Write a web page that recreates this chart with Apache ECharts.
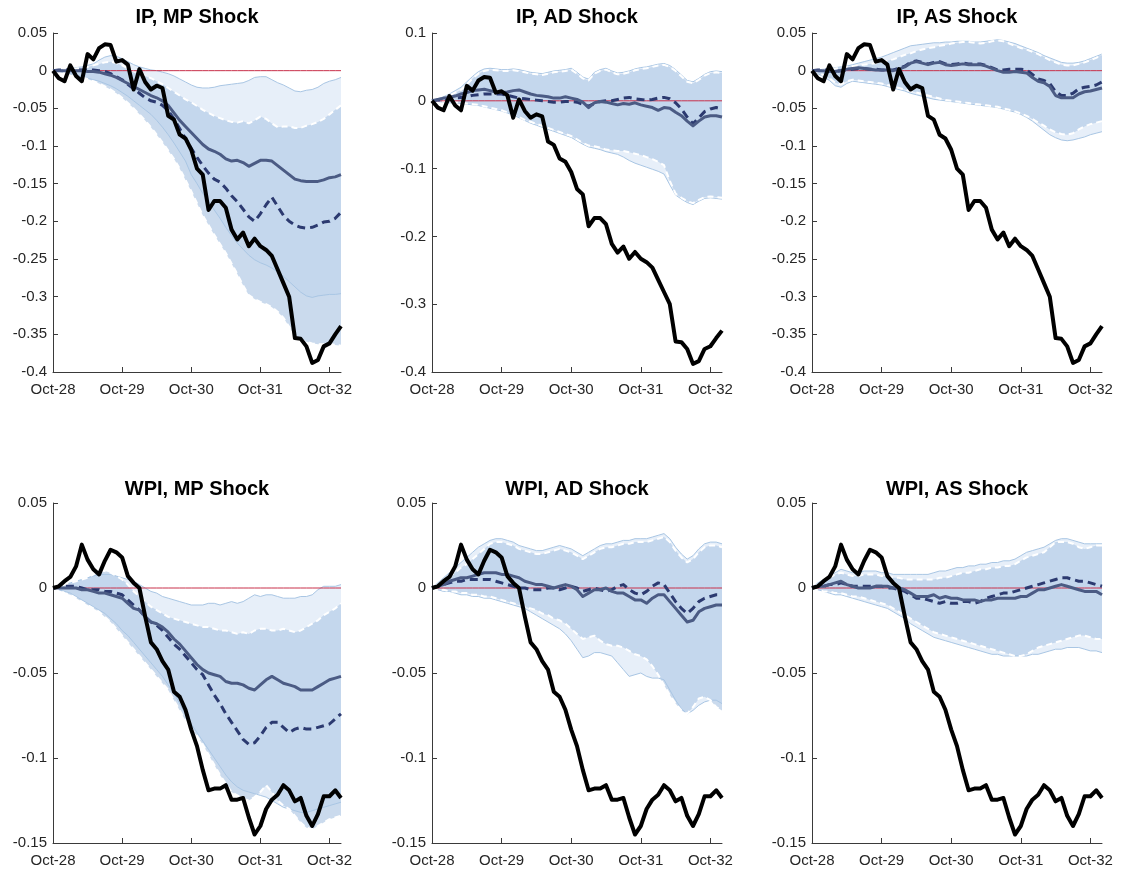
<!DOCTYPE html>
<html>
<head>
<meta charset="utf-8">
<script src="https://cdn.jsdelivr.net/npm/echarts@6/dist/echarts.min.js"></script>
<style>
html,body{margin:0;padding:0;background:#fff;}
#chart{width:1121px;height:872px;}
</style>
</head>
<body>
<div id="chart"></div>
<script>
// ---------- categories / tick labels ----------
const monthNames = ['Jan','Feb','Mar','Apr','May','Jun','Jul','Aug','Sep','Oct','Nov','Dec'];
const months = [];
for (let i = 0; i < 51; i++) {
  months.push(monthNames[(9 + i) % 12] + '-' + (28 + Math.floor((9 + i) / 12)));
}
const panelTitles = ['IP, MP Shock','IP, AD Shock','IP, AS Shock','WPI, MP Shock','WPI, AD Shock','WPI, AS Shock'];

// ---------- actual data (black lines) ----------
const ipActual = [0,-0.01,-0.014,0.007,-0.007,-0.014,0.022,0.015,0.03,0.035,0.034,0.012,0.014,0.008,-0.025,0.002,-0.015,-0.025,-0.02,-0.023,-0.06,-0.065,-0.085,-0.09,-0.105,-0.13,-0.138,-0.185,-0.173,-0.173,-0.182,-0.211,-0.224,-0.215,-0.233,-0.223,-0.233,-0.238,-0.246,-0.264,-0.282,-0.3,-0.355,-0.356,-0.366,-0.388,-0.384,-0.366,-0.362,-0.35,-0.339];
const wpiActual = [0,0.001,0.004,0.0065,0.0127,0.0255,0.0167,0.011,0.008,0.016,0.0225,0.021,0.018,0.007,0.003,0,-0.0167,-0.032,-0.036,-0.043,-0.048,-0.061,-0.064,-0.0716,-0.0833,-0.093,-0.107,-0.119,-0.118,-0.118,-0.116,-0.1245,-0.1245,-0.1235,-0.135,-0.145,-0.14,-0.13,-0.1245,-0.1216,-0.116,-0.119,-0.1255,-0.1235,-0.134,-0.14,-0.133,-0.1225,-0.1225,-0.119,-0.1235];

// ---------- IP, MP ----------
const ipMpSolid = [0,0,0,0,0,0,-0.001,-0.001,-0.002,-0.004,-0.006,-0.009,-0.013,-0.017,-0.021,-0.025,-0.029,-0.033,-0.036,-0.04,-0.046,-0.056,-0.066,-0.074,-0.082,-0.09,-0.098,-0.104,-0.107,-0.111,-0.117,-0.12,-0.119,-0.122,-0.127,-0.123,-0.119,-0.119,-0.12,-0.126,-0.132,-0.138,-0.144,-0.146,-0.147,-0.147,-0.147,-0.145,-0.142,-0.141,-0.138];
const ipMpDashed = [0,0.001,0.001,0.001,0.001,0.001,0.001,0.001,0,-0.001,-0.004,-0.008,-0.012,-0.018,-0.024,-0.03,-0.036,-0.04,-0.042,-0.046,-0.053,-0.064,-0.077,-0.09,-0.103,-0.115,-0.126,-0.136,-0.144,-0.148,-0.156,-0.166,-0.174,-0.184,-0.194,-0.2,-0.19,-0.178,-0.168,-0.18,-0.192,-0.2,-0.205,-0.208,-0.209,-0.208,-0.205,-0.201,-0.2,-0.196,-0.188];
const ipMpUpperA = [0,0.001,0.002,0.003,0.004,0.005,0.007,0.009,0.014,0.018,0.02,0.019,0.016,0.012,0.008,0.005,0.003,0.001,0,-0.002,-0.004,-0.007,-0.011,-0.015,-0.019,-0.022,-0.023,-0.023,-0.022,-0.02,-0.019,-0.018,-0.017,-0.016,-0.013,-0.009,-0.008,-0.008,-0.012,-0.016,-0.019,-0.023,-0.027,-0.028,-0.026,-0.025,-0.022,-0.017,-0.014,-0.012,-0.009];
const ipMpLowerA = [0,-0.001,-0.002,-0.004,-0.006,-0.008,-0.01,-0.012,-0.014,-0.017,-0.02,-0.024,-0.029,-0.034,-0.04,-0.046,-0.052,-0.058,-0.066,-0.075,-0.085,-0.096,-0.108,-0.12,-0.138,-0.15,-0.163,-0.174,-0.185,-0.196,-0.208,-0.219,-0.229,-0.237,-0.245,-0.251,-0.255,-0.258,-0.262,-0.267,-0.273,-0.28,-0.287,-0.294,-0.299,-0.301,-0.299,-0.298,-0.297,-0.297,-0.296];
const ipMpUpperB = [0,0.001,0.002,0.002,0.003,0.004,0.005,0.007,0.009,0.011,0.012,0.01,0.007,0.003,-0.001,-0.004,-0.007,-0.01,-0.014,-0.018,-0.023,-0.028,-0.033,-0.038,-0.042,-0.047,-0.052,-0.056,-0.06,-0.063,-0.066,-0.068,-0.069,-0.067,-0.07,-0.066,-0.061,-0.064,-0.07,-0.075,-0.074,-0.074,-0.076,-0.076,-0.073,-0.071,-0.068,-0.064,-0.058,-0.052,-0.046];
const ipMpLowerB = [0,-0.001,-0.003,-0.005,-0.007,-0.009,-0.011,-0.014,-0.017,-0.021,-0.025,-0.03,-0.036,-0.043,-0.05,-0.058,-0.066,-0.075,-0.085,-0.095,-0.106,-0.117,-0.13,-0.145,-0.16,-0.176,-0.192,-0.205,-0.218,-0.23,-0.242,-0.256,-0.27,-0.285,-0.298,-0.303,-0.307,-0.31,-0.314,-0.32,-0.328,-0.34,-0.352,-0.357,-0.36,-0.362,-0.363,-0.363,-0.363,-0.364,-0.365];

// ---------- IP, AD ----------
const ipAdSolid = [0,0.002,0.004,0.005,0.007,0.01,0.012,0.015,0.016,0.017,0.015,0.013,0.012,0.013,0.015,0.016,0.013,0.01,0.008,0.007,0.006,0.004,0.004,0.006,0.004,0.002,-0.002,-0.01,-0.003,-0.001,-0.002,-0.004,-0.006,-0.004,-0.005,-0.003,-0.006,-0.008,-0.01,-0.014,-0.01,-0.011,-0.017,-0.022,-0.03,-0.037,-0.03,-0.024,-0.022,-0.022,-0.024];
const ipAdDashed = [0,0.001,0.002,0.003,0.004,0.005,0.006,0.008,0.009,0.01,0.01,0.01,0.01,0.008,0.006,0.004,0.003,0.002,0.001,0,-0.001,-0.002,-0.002,-0.001,-0.001,-0.002,-0.005,-0.008,-0.004,-0.001,0,0,0.002,0.004,0.005,0.003,0.002,0.001,0.002,0.004,0.005,0.003,-0.003,-0.012,-0.024,-0.034,-0.025,-0.016,-0.012,-0.01,-0.012];
const ipAdUpperA = [0,0.003,0.006,0.01,0.015,0.02,0.028,0.036,0.043,0.047,0.048,0.047,0.046,0.046,0.047,0.046,0.044,0.042,0.041,0.04,0.042,0.044,0.045,0.046,0.048,0.042,0.035,0.032,0.042,0.046,0.048,0.044,0.041,0.042,0.044,0.047,0.049,0.05,0.052,0.054,0.055,0.052,0.046,0.038,0.03,0.028,0.033,0.039,0.043,0.044,0.043];
const ipAdLowerA = [0,-0.001,-0.002,-0.003,-0.003,-0.004,-0.005,-0.006,-0.007,-0.009,-0.011,-0.013,-0.015,-0.018,-0.021,-0.025,-0.029,-0.033,-0.036,-0.039,-0.042,-0.045,-0.048,-0.051,-0.054,-0.059,-0.064,-0.068,-0.07,-0.072,-0.075,-0.077,-0.079,-0.083,-0.088,-0.092,-0.095,-0.098,-0.101,-0.104,-0.108,-0.124,-0.139,-0.145,-0.15,-0.153,-0.148,-0.144,-0.143,-0.144,-0.145];
const ipAdUpperB = [0,0.002,0.004,0.008,0.012,0.016,0.024,0.033,0.04,0.044,0.046,0.045,0.044,0.044,0.045,0.044,0.042,0.04,0.039,0.038,0.04,0.042,0.043,0.044,0.046,0.04,0.033,0.03,0.04,0.044,0.046,0.042,0.039,0.04,0.042,0.045,0.047,0.048,0.05,0.052,0.053,0.05,0.044,0.036,0.028,0.026,0.031,0.037,0.041,0.042,0.041];
const ipAdLowerB = [0,-0.001,-0.001,-0.002,-0.002,-0.003,-0.004,-0.005,-0.006,-0.008,-0.01,-0.012,-0.014,-0.017,-0.02,-0.024,-0.028,-0.031,-0.034,-0.037,-0.04,-0.043,-0.046,-0.049,-0.052,-0.057,-0.062,-0.066,-0.067,-0.069,-0.072,-0.073,-0.074,-0.074,-0.076,-0.078,-0.08,-0.083,-0.086,-0.09,-0.095,-0.118,-0.137,-0.143,-0.148,-0.151,-0.146,-0.142,-0.141,-0.142,-0.143];

// ---------- IP, AS ----------
const ipAsSolid = [0,0,0,-0.001,-0.001,0,0.002,0.003,0.004,0.003,0.002,0.001,0.001,0.001,0,0.002,0.005,0.01,0.012,0.01,0.008,0.01,0.011,0.008,0.007,0.008,0.009,0.008,0.008,0.008,0.006,0.003,0,-0.002,-0.002,-0.001,-0.002,-0.003,-0.009,-0.014,-0.016,-0.021,-0.033,-0.036,-0.036,-0.036,-0.031,-0.028,-0.027,-0.025,-0.023];
const ipAsDashed = [0,0.001,0.001,0,-0.001,0,0.001,0.002,0.003,0.003,0.002,0.002,0.001,0.001,0.001,0.003,0.006,0.011,0.013,0.011,0.009,0.011,0.012,0.009,0.008,0.009,0.01,0.009,0.009,0.009,0.007,0.004,0.001,0.001,0.002,0.002,0.002,0.001,-0.005,-0.011,-0.013,-0.017,-0.028,-0.033,-0.033,-0.03,-0.024,-0.022,-0.021,-0.019,-0.015];
const ipAsUpperA = [0,0.001,0.002,0.003,0.004,0.005,0.006,0.008,0.01,0.012,0.014,0.016,0.018,0.021,0.024,0.027,0.03,0.033,0.034,0.035,0.036,0.037,0.037,0.038,0.038,0.039,0.039,0.039,0.038,0.038,0.039,0.04,0.041,0.04,0.038,0.036,0.033,0.03,0.027,0.024,0.02,0.017,0.014,0.011,0.01,0.01,0.011,0.013,0.016,0.019,0.022];
const ipAsLowerA = [0,-0.004,-0.008,-0.013,-0.02,-0.022,-0.017,-0.014,-0.015,-0.016,-0.017,-0.018,-0.019,-0.021,-0.023,-0.025,-0.027,-0.03,-0.032,-0.034,-0.036,-0.038,-0.039,-0.04,-0.041,-0.042,-0.043,-0.044,-0.045,-0.046,-0.047,-0.048,-0.049,-0.051,-0.053,-0.055,-0.058,-0.062,-0.067,-0.073,-0.079,-0.085,-0.089,-0.092,-0.093,-0.092,-0.09,-0.088,-0.085,-0.083,-0.081];
const ipAsUpperB = [0,0.001,0.001,0.002,0.003,0.004,0.005,0.006,0.007,0.008,0.009,0.01,0.011,0.013,0.015,0.018,0.021,0.023,0.026,0.028,0.03,0.031,0.033,0.034,0.036,0.037,0.038,0.038,0.037,0.036,0.037,0.039,0.04,0.039,0.036,0.033,0.03,0.028,0.025,0.022,0.018,0.014,0.011,0.008,0.007,0.007,0.009,0.011,0.014,0.017,0.021];
const ipAsLowerB = [0,-0.003,-0.006,-0.01,-0.016,-0.018,-0.014,-0.012,-0.013,-0.014,-0.015,-0.016,-0.017,-0.019,-0.021,-0.023,-0.025,-0.027,-0.029,-0.031,-0.033,-0.035,-0.037,-0.039,-0.04,-0.041,-0.042,-0.043,-0.044,-0.045,-0.046,-0.047,-0.048,-0.05,-0.052,-0.054,-0.057,-0.06,-0.064,-0.069,-0.073,-0.078,-0.082,-0.084,-0.085,-0.083,-0.078,-0.074,-0.071,-0.069,-0.067];

// ---------- WPI, MP ----------
const wpiMpSolid = [0,0,0,0,0,-0.001,-0.001,-0.002,-0.003,-0.003,-0.004,-0.005,-0.006,-0.009,-0.012,-0.013,-0.017,-0.02,-0.021,-0.023,-0.026,-0.03,-0.033,-0.037,-0.041,-0.045,-0.048,-0.05,-0.051,-0.052,-0.055,-0.056,-0.056,-0.057,-0.059,-0.06,-0.057,-0.054,-0.052,-0.054,-0.056,-0.057,-0.058,-0.06,-0.06,-0.06,-0.058,-0.056,-0.054,-0.053,-0.052];
const wpiMpDashed = [0,0.0005,0.001,0.001,0.001,0,-0.001,-0.001,-0.001,-0.002,-0.002,-0.003,-0.004,-0.007,-0.01,-0.013,-0.017,-0.02,-0.022,-0.025,-0.029,-0.033,-0.036,-0.04,-0.044,-0.048,-0.051,-0.057,-0.063,-0.068,-0.074,-0.079,-0.084,-0.089,-0.092,-0.091,-0.087,-0.082,-0.079,-0.079,-0.082,-0.085,-0.083,-0.082,-0.083,-0.083,-0.082,-0.081,-0.08,-0.077,-0.074];
const wpiMpUpperA = [0,0.001,0.002,0.003,0.004,0.005,0.006,0.007,0.008,0.008,0.008,0.007,0.006,0.005,0.004,0.002,0,-0.002,-0.003,-0.005,-0.006,-0.007,-0.008,-0.009,-0.01,-0.01,-0.01,-0.009,-0.009,-0.01,-0.009,-0.008,-0.009,-0.008,-0.006,-0.004,-0.005,-0.004,-0.004,-0.005,-0.006,-0.006,-0.006,-0.005,-0.005,-0.004,-0.001,0.001,0.001,0.001,0.002];
const wpiMpLowerA = [0,-0.001,-0.002,-0.003,-0.005,-0.007,-0.009,-0.011,-0.013,-0.015,-0.018,-0.021,-0.025,-0.028,-0.032,-0.036,-0.04,-0.044,-0.048,-0.052,-0.057,-0.062,-0.068,-0.074,-0.08,-0.085,-0.09,-0.095,-0.1,-0.105,-0.11,-0.114,-0.117,-0.119,-0.12,-0.121,-0.122,-0.123,-0.125,-0.127,-0.129,-0.13,-0.131,-0.132,-0.132,-0.131,-0.13,-0.129,-0.128,-0.127,-0.126];
const wpiMpUpperB = [0,0.001,0.002,0.003,0.004,0.005,0.006,0.008,0.01,0.01,0.009,0.007,0.005,0.002,-0.002,-0.005,-0.008,-0.011,-0.013,-0.015,-0.017,-0.018,-0.019,-0.02,-0.021,-0.022,-0.023,-0.023,-0.024,-0.025,-0.025,-0.026,-0.027,-0.026,-0.027,-0.025,-0.024,-0.024,-0.025,-0.025,-0.024,-0.025,-0.026,-0.025,-0.023,-0.021,-0.019,-0.016,-0.014,-0.012,-0.009];
const wpiMpLowerB = [0,-0.001,-0.003,-0.004,-0.006,-0.008,-0.01,-0.012,-0.014,-0.017,-0.02,-0.024,-0.028,-0.032,-0.036,-0.04,-0.044,-0.048,-0.052,-0.056,-0.06,-0.066,-0.072,-0.078,-0.083,-0.087,-0.092,-0.098,-0.104,-0.11,-0.115,-0.12,-0.122,-0.124,-0.125,-0.123,-0.12,-0.116,-0.12,-0.125,-0.128,-0.13,-0.134,-0.138,-0.141,-0.142,-0.14,-0.138,-0.136,-0.135,-0.134];

// ---------- WPI, AD ----------
const wpiAdSolid = [0,0.001,0.002,0.004,0.005,0.006,0.006,0.007,0.008,0.009,0.009,0.009,0.008,0.008,0.007,0.006,0.004,0.003,0.002,0.002,0.001,0,0.001,0.002,0.001,-0.001,-0.005,-0.003,-0.001,-0.001,0,-0.002,-0.003,-0.003,-0.005,-0.007,-0.007,-0.009,-0.006,-0.004,-0.004,-0.008,-0.012,-0.016,-0.02,-0.019,-0.014,-0.012,-0.011,-0.01,-0.01];
const wpiAdDashed = [0,0.001,0.002,0.003,0.004,0.004,0.005,0.005,0.005,0.005,0.005,0.004,0.003,0.002,0.001,0,0,-0.001,-0.001,-0.001,0,0,-0.001,0,0.001,0,-0.002,-0.001,0,-0.001,-0.002,-0.001,0.001,0.002,-0.001,-0.003,-0.004,-0.002,0.001,0.003,0.002,-0.003,-0.008,-0.012,-0.015,-0.012,-0.008,-0.006,-0.005,-0.004,-0.004];
const wpiAdUpperA = [0,0.003,0.006,0.009,0.012,0.015,0.018,0.021,0.024,0.026,0.028,0.029,0.029,0.028,0.027,0.025,0.024,0.023,0.022,0.022,0.023,0.024,0.025,0.024,0.023,0.021,0.019,0.021,0.023,0.025,0.026,0.026,0.027,0.028,0.028,0.029,0.029,0.029,0.03,0.031,0.032,0.029,0.024,0.02,0.017,0.019,0.023,0.026,0.027,0.027,0.026];
const wpiAdLowerA = [0,-0.001,-0.002,-0.002,-0.003,-0.004,-0.004,-0.005,-0.005,-0.006,-0.006,-0.007,-0.008,-0.009,-0.01,-0.011,-0.012,-0.014,-0.016,-0.018,-0.02,-0.022,-0.024,-0.027,-0.031,-0.036,-0.041,-0.04,-0.038,-0.038,-0.039,-0.04,-0.044,-0.048,-0.052,-0.051,-0.05,-0.052,-0.053,-0.053,-0.054,-0.06,-0.066,-0.071,-0.074,-0.072,-0.069,-0.067,-0.066,-0.066,-0.068];
const wpiAdUpperB = [0,0.002,0.004,0.007,0.009,0.012,0.014,0.017,0.02,0.023,0.026,0.027,0.027,0.026,0.025,0.023,0.022,0.021,0.02,0.02,0.021,0.022,0.023,0.022,0.021,0.019,0.017,0.019,0.021,0.023,0.024,0.024,0.025,0.026,0.026,0.027,0.027,0.027,0.028,0.029,0.03,0.027,0.022,0.018,0.015,0.017,0.021,0.024,0.025,0.025,0.024];
const wpiAdLowerB = [0,-0.001,-0.001,-0.002,-0.002,-0.003,-0.003,-0.004,-0.004,-0.005,-0.005,-0.006,-0.007,-0.008,-0.009,-0.01,-0.011,-0.012,-0.013,-0.015,-0.016,-0.018,-0.019,-0.021,-0.024,-0.027,-0.03,-0.029,-0.028,-0.031,-0.033,-0.034,-0.034,-0.035,-0.037,-0.039,-0.04,-0.042,-0.046,-0.051,-0.057,-0.063,-0.068,-0.072,-0.074,-0.07,-0.065,-0.064,-0.066,-0.07,-0.072];

// ---------- WPI, AS ----------
const wpiAsSolid = [0,0.001,0.001,0.002,0.003,0.004,0.002,0.001,0,0,0,0.001,0.001,0.001,0,0,-0.001,-0.003,-0.005,-0.005,-0.005,-0.004,-0.006,-0.005,-0.006,-0.006,-0.007,-0.007,-0.007,-0.008,-0.007,-0.007,-0.006,-0.006,-0.006,-0.006,-0.005,-0.005,-0.003,-0.001,-0.001,0,0.001,0.002,0.001,0,-0.001,-0.002,-0.002,-0.002,-0.004];
const wpiAsDashed = [0,0.001,0.001,0.002,0.002,0.003,0.002,0.001,0.001,0.001,0.001,0.001,0.001,0,0,-0.001,-0.002,-0.004,-0.006,-0.006,-0.007,-0.008,-0.009,-0.008,-0.009,-0.009,-0.008,-0.008,-0.009,-0.008,-0.006,-0.005,-0.004,-0.003,-0.003,-0.002,-0.001,0,0.001,0.002,0.003,0.004,0.005,0.006,0.006,0.005,0.004,0.004,0.003,0.002,0.001];
const wpiAsUpperA = [0,0.003,0.005,0.007,0.009,0.011,0.01,0.009,0.009,0.01,0.01,0.01,0.009,0.009,0.008,0.008,0.008,0.008,0.008,0.008,0.008,0.009,0.01,0.01,0.011,0.012,0.012,0.013,0.013,0.014,0.014,0.015,0.015,0.016,0.016,0.017,0.019,0.021,0.022,0.023,0.024,0.026,0.028,0.029,0.029,0.028,0.027,0.026,0.026,0.026,0.026];
const wpiAsLowerA = [0,-0.001,-0.002,-0.003,-0.004,-0.004,-0.005,-0.006,-0.007,-0.008,-0.009,-0.01,-0.011,-0.012,-0.014,-0.016,-0.018,-0.021,-0.023,-0.025,-0.027,-0.029,-0.03,-0.031,-0.032,-0.033,-0.034,-0.035,-0.036,-0.037,-0.038,-0.039,-0.039,-0.04,-0.04,-0.04,-0.04,-0.04,-0.039,-0.039,-0.038,-0.037,-0.036,-0.036,-0.035,-0.035,-0.035,-0.036,-0.037,-0.037,-0.038];
const wpiAsUpperB = [0,0.002,0.004,0.006,0.008,0.009,0.008,0.007,0.007,0.008,0.008,0.008,0.007,0.007,0.006,0.006,0.005,0.005,0.005,0.005,0.005,0.005,0.006,0.006,0.007,0.008,0.009,0.009,0.01,0.011,0.011,0.012,0.012,0.013,0.013,0.014,0.016,0.018,0.019,0.02,0.021,0.024,0.027,0.027,0.027,0.026,0.024,0.023,0.024,0.025,0.025];
const wpiAsLowerB = [0,-0.001,-0.002,-0.002,-0.003,-0.003,-0.004,-0.005,-0.005,-0.006,-0.007,-0.008,-0.009,-0.01,-0.012,-0.014,-0.016,-0.018,-0.02,-0.022,-0.024,-0.026,-0.027,-0.028,-0.029,-0.03,-0.031,-0.032,-0.033,-0.034,-0.035,-0.036,-0.037,-0.038,-0.039,-0.04,-0.04,-0.039,-0.037,-0.035,-0.034,-0.033,-0.032,-0.031,-0.03,-0.029,-0.028,-0.028,-0.029,-0.03,-0.03];

// ---------- axis ranges / reference level ----------
const yMins = [-0.4,-0.4,-0.4,-0.15,-0.15,-0.15];
const yMaxs = [0.05,0.1,0.05,0.05,0.05,0.05];
const yIntervals = [0.05,0.1,0.05,0.05,0.05,0.05];
const zeroLevel = 0;
const zeroRef = months.map(() => zeroLevel);

const panels = [
  {actual: ipActual, solid: ipMpSolid, dashed: ipMpDashed, upA: ipMpUpperA, loA: ipMpLowerA, upB: ipMpUpperB, loB: ipMpLowerB},
  {actual: ipActual, solid: ipAdSolid, dashed: ipAdDashed, upA: ipAdUpperA, loA: ipAdLowerA, upB: ipAdUpperB, loB: ipAdLowerB},
  {actual: ipActual, solid: ipAsSolid, dashed: ipAsDashed, upA: ipAsUpperA, loA: ipAsLowerA, upB: ipAsUpperB, loB: ipAsLowerB},
  {actual: wpiActual, solid: wpiMpSolid, dashed: wpiMpDashed, upA: wpiMpUpperA, loA: wpiMpLowerA, upB: wpiMpUpperB, loB: wpiMpLowerB},
  {actual: wpiActual, solid: wpiAdSolid, dashed: wpiAdDashed, upA: wpiAdUpperA, loA: wpiAdLowerA, upB: wpiAdUpperB, loB: wpiAdLowerB},
  {actual: wpiActual, solid: wpiAsSolid, dashed: wpiAsDashed, upA: wpiAsUpperA, loA: wpiAsLowerA, upB: wpiAsUpperB, loB: wpiAsLowerB}
];

// ---------- layout ----------
const FONT = "'Liberation Sans', Arial, Helvetica, sans-serif";
const gridBoxes = [
  {left: 53, top: 33, width: 288, height: 339},
  {left: 432, top: 33, width: 290, height: 339},
  {left: 812, top: 33, width: 290, height: 339},
  {left: 53, top: 503, width: 288, height: 340},
  {left: 432, top: 503, width: 290, height: 340},
  {left: 812, top: 503, width: 290, height: 340}
];
const AXIS_COLOR = '#3a3a3a';
const BAND_A = 'rgba(185,210,238,0.35)';
const BAND_B = 'rgba(150,182,220,0.5)';
const EDGE_A = '#a9c6e4';
const SOLID_C = '#4b5b84';
const DASH_C = '#2c3a70';
const ZERO_C = '#c8304a';

function fmt(v) {
  const r = Math.round(v * 1000) / 1000;
  return r === 0 ? '0' : String(r);
}

const grid = [], xAxis = [], yAxis = [], title = [], series = [];
gridBoxes.forEach((g, i) => {
  grid.push(Object.assign({containLabel: false, show: false}, g));
  title.push({
    text: panelTitles[i], left: g.left + g.width / 2, top: i < 3 ? 7 : 479,
    textAlign: 'center', padding: 0,
    textStyle: {fontSize: 20, fontWeight: 'bold', color: '#000', fontFamily: FONT}
  });
  xAxis.push({
    type: 'category', gridIndex: i, data: months, boundaryGap: false,
    axisLine: {show: true, onZero: false, lineStyle: {color: AXIS_COLOR, width: 1}},
    axisTick: {show: true, inside: true, length: 5, interval: 11, lineStyle: {color: AXIS_COLOR}},
    axisLabel: {interval: 11, fontSize: 15, color: '#262626', margin: 10, fontFamily: FONT},
    splitLine: {show: false}, splitArea: {show: false}, minorSplitLine: {show: false}
  });
  yAxis.push({
    type: 'value', gridIndex: i, min: yMins[i], max: yMaxs[i], interval: yIntervals[i],
    axisLine: {show: true, onZero: false, lineStyle: {color: AXIS_COLOR, width: 1}},
    axisTick: {show: true, inside: true, length: 5, lineStyle: {color: AXIS_COLOR}},
    axisLabel: {fontSize: 15, color: '#262626', margin: 6, fontFamily: FONT, formatter: fmt},
    splitLine: {show: false}, splitArea: {show: false}, minorSplitLine: {show: false}
  });

  const p = panels[i];
  const base = {xAxisIndex: i, yAxisIndex: i, symbol: 'none', silent: true, animation: false};
  const last = months.length - 1;
  const hidden = {width: 0, opacity: 0, color: 'rgba(0,0,0,0)'};
  // band B fill (darker)
  series.push(Object.assign({}, base, {type: 'line', z: 1, stack: 'B' + i, stackStrategy: 'all', data: p.loB, itemStyle: {color: 'rgba(0,0,0,0)'}, lineStyle: hidden}));
  series.push(Object.assign({}, base, {type: 'line', z: 1, stack: 'B' + i, stackStrategy: 'all', data: p.upB.map((u, k) => u - p.loB[k]), itemStyle: {color: BAND_B}, lineStyle: hidden, areaStyle: {color: BAND_B, opacity: 1}}));
  // band A fill (light)
  series.push(Object.assign({}, base, {type: 'line', z: 1, stack: 'A' + i, stackStrategy: 'all', data: p.loA, itemStyle: {color: 'rgba(0,0,0,0)'}, lineStyle: hidden}));
  series.push(Object.assign({}, base, {type: 'line', z: 1, stack: 'A' + i, stackStrategy: 'all', data: p.upA.map((u, k) => u - p.loA[k]), itemStyle: {color: BAND_A}, lineStyle: hidden, areaStyle: {color: BAND_A, opacity: 1}}));
  // band A edges
  series.push(Object.assign({}, base, {type: 'line', z: 1, data: p.upA, itemStyle: {color: EDGE_A}, lineStyle: {color: EDGE_A, width: 1}}));
  series.push(Object.assign({}, base, {type: 'line', z: 1, data: p.loA, itemStyle: {color: EDGE_A}, lineStyle: {color: EDGE_A, width: 1}}));
  // band B edges (white dashed)
  series.push(Object.assign({}, base, {type: 'line', z: 1, data: p.upB, itemStyle: {color: '#ffffff'}, lineStyle: {color: '#ffffff', width: 2, type: [6, 4]},
    markLine: {z: 1, silent: true, symbol: 'none', label: {show: false}, lineStyle: {color: '#ffffff', width: 2, type: [6, 4]},
      data: [[{coord: [last, p.loB[last]]}, {coord: [last, p.upB[last]]}]]}}));
  series.push(Object.assign({}, base, {type: 'line', z: 1, data: p.loB, itemStyle: {color: '#ffffff'}, lineStyle: {color: '#ffffff', width: 2, type: [6, 4]}}));
  // zero reference line
  series.push(Object.assign({}, base, {type: 'line', z: 2, data: zeroRef, itemStyle: {color: ZERO_C}, lineStyle: {color: ZERO_C, width: 1}}));
  // dashed median
  series.push(Object.assign({}, base, {type: 'line', z: 3, data: p.dashed, itemStyle: {color: DASH_C}, lineStyle: {color: DASH_C, width: 3, type: [8, 5], join: 'round'}}));
  // solid median
  series.push(Object.assign({}, base, {type: 'line', z: 3, data: p.solid, itemStyle: {color: SOLID_C}, lineStyle: {color: SOLID_C, width: 3, join: 'round'}}));
  // actual
  series.push(Object.assign({}, base, {type: 'line', z: 4, data: p.actual, itemStyle: {color: '#000000'}, lineStyle: {color: '#000000', width: 4, join: 'round'}}));
});

const chart = echarts.init(document.getElementById('chart'), null, {renderer: 'canvas'});
chart.setOption({
  backgroundColor: '#ffffff',
  animation: false,
  title, grid, xAxis, yAxis, series
});
</script>
</body>
</html>
